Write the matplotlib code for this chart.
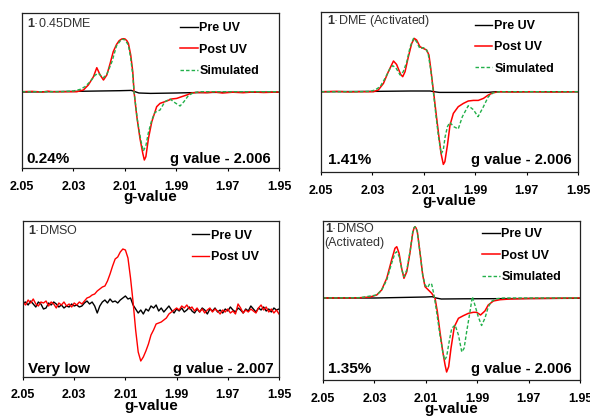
import numpy as np
import matplotlib
matplotlib.use('Agg')
import matplotlib.pyplot as plt

plt.rcParams['font.family'] = ['Liberation Sans', 'DejaVu Sans']
plt.rcParams['mathtext.fontset'] = 'custom'
plt.rcParams['mathtext.rm'] = 'Liberation Sans'
plt.rcParams['mathtext.bf'] = 'Liberation Sans:bold'

RED = '#ff0000'
GREEN = '#22b04a'

# ---- panel 1: 1·0.45DME ----
p1_pre_g = [2.050, 2.040, 2.030, 2.020, 2.012, 2.0075, 2.0060, 2.0045, 2.000, 1.995, 1.990, 1.985, 1.980, 1.970, 1.960, 1.950]
p1_pre_i = [-0.3, 0.0, 0.3, 0.7, 1.0, 1.3, 0.0, -1.3, -1.7, -1.5, -1.3, -1.0, -0.8, -0.6, -0.5, -0.4]

p1_post_g = [2.050, 2.046, 2.042, 2.040, 2.038, 2.0352, 2.0287, 2.0261, 2.0242, 2.0222, 2.0209, 2.0196,
             2.0183, 2.0170, 2.0157, 2.0145, 2.0132, 2.0122, 2.0112, 2.0105, 2.0099, 2.0092, 2.0086,
             2.0077, 2.0069, 2.0064, 2.0054, 2.0041, 2.0030, 2.0024, 2.0018, 2.0008, 1.9995, 1.9976,
             1.9963, 1.9937, 1.9918, 1.9898, 1.9879, 1.9859, 1.9840, 1.9820, 1.978, 1.975, 1.972,
             1.968, 1.964, 1.960, 1.956, 1.950]
p1_post_i = [0.0, 0.3, -0.3, 0.5, 0.0, 0.0, 0.0, 1.7, 6.7, 15.0, 24.0, 16.7,
             11.7, 16.7, 28.3, 40.0, 47.3, 51.0, 52.7, 53.0, 52.7, 51.0, 48.3,
             36.7, 20.0, 0.0, -23.3, -46.7, -61.7, -68.3, -65.0, -46.7, -30.0, -15.0,
             -11.7, -9.3, -7.3, -6.7, -5.0, -3.3, -1.3, -0.7, -1.0, -0.3, -1.3,
             -0.5, -1.0, -0.3, -0.8, -0.3]

p1_sim_g = [2.050, 2.0352, 2.0300, 2.0274, 2.0255, 2.0235, 2.0215, 2.0202, 2.0189, 2.0183, 2.0170,
            2.0150, 2.0132, 2.0112, 2.0099, 2.0086, 2.0077, 2.0069, 2.0064, 2.0051, 2.0038, 2.0028,
            2.0018, 2.0008, 1.9995, 1.9983, 1.9963, 1.9944, 1.9924, 1.9905, 1.9885, 1.9870, 1.9853,
            1.9833, 1.9807, 1.950]
p1_sim_i = [0.0, 0.0, 0.7, 2.3, 5.0, 10.0, 16.7, 18.3, 15.0, 14.0, 17.3,
            30.0, 46.0, 52.7, 51.7, 46.7, 33.3, 16.7, 0.0, -28.3, -48.3, -59.3,
            -54.0, -40.7, -28.3, -20.7, -18.3, -10.0, -7.3, -11.0, -14.3, -10.0, -4.0,
            -1.0, 0.0, 0.0]

# ---- panel 2: 1·DME (Activated) ----
p2_pre_g = [2.050, 2.030, 2.015, 2.0075, 2.006, 2.004, 1.995, 1.985, 1.982, 1.950]
p2_pre_i = [0.0, 0.3, 0.7, 0.7, 0.0, -0.7, -0.7, -0.7, 0.0, 0.0]

p2_post_g = [2.050, 2.044, 2.039, 2.0348, 2.0296, 2.0277, 2.0257, 2.0238, 2.0218, 2.0206, 2.0190,
             2.0182, 2.0173, 2.0160, 2.0147, 2.0137, 2.0128, 2.0115, 2.0102, 2.0089, 2.0080, 2.0073,
             2.0067, 2.0062, 2.0053, 2.0042, 2.0033, 2.0024, 2.0018, 2.0008, 1.9998, 1.9985, 1.9966,
             1.9946, 1.9927, 1.9907, 1.9888, 1.9868, 1.9849, 1.9830, 1.9804, 1.975, 1.968, 1.960, 1.950]
p2_post_i = [0.0, 0.3, -0.2, 0.0, 0.0, 1.7, 8.3, 20.0, 30.7, 27.3, 17.3,
             15.0, 20.0, 35.0, 48.3, 53.3, 51.7, 45.0, 43.3, 41.7, 36.7, 23.3,
             10.0, 0.0, -20.0, -43.3, -61.7, -72.7, -70.0, -53.3, -33.3, -21.7, -15.0,
             -11.7, -9.3, -8.7, -8.7, -6.7, -3.3, -1.0, 0.0, -0.3, 0.0, -0.3, 0.0]

p2_sim_g = [2.050, 2.0348, 2.0309, 2.0290, 2.0270, 2.0251, 2.0231, 2.0221, 2.0209, 2.0192, 2.0180,
            2.0166, 2.0153, 2.0140, 2.0128, 2.0115, 2.0102, 2.0092, 2.0083, 2.0072, 2.0063, 2.0053,
            2.0042, 2.0032, 2.0024, 2.0017, 2.0008, 1.9999, 1.9983, 1.9966, 1.9950, 1.9927, 1.9907,
            1.9889, 1.9870, 1.9849, 1.9830, 1.9804, 1.950]
p2_sim_i = [0.0, 0.0, 0.3, 1.7, 5.0, 13.3, 23.3, 26.0, 24.0, 16.7, 20.0,
            30.0, 45.0, 53.3, 50.0, 43.0, 44.0, 43.0, 38.0, 20.0, 0.0, -23.3,
            -46.7, -62.0, -58.0, -45.0, -35.0, -30.7, -35.0, -37.3, -25.0, -14.0, -18.0,
            -25.0, -16.0, -5.0, -1.0, 0.0, 0.0]

# ---- panel 3: 1·DMSO (noisy) ----
p3_g = [2.050, 2.049, 2.048, 2.047, 2.046, 2.045, 2.044, 2.043, 2.042, 2.041,
        2.040, 2.039, 2.038, 2.037, 2.036, 2.035, 2.034, 2.033, 2.032, 2.031,
        2.030, 2.029, 2.028, 2.027, 2.026, 2.025, 2.024, 2.023, 2.022, 2.021,
        2.020, 2.019, 2.018, 2.017, 2.016, 2.015, 2.014, 2.013, 2.012, 2.011,
        2.010, 2.009, 2.008, 2.007, 2.006, 2.005, 2.004, 2.003, 2.002, 2.001,
        2.000, 1.999, 1.998, 1.997, 1.996, 1.995, 1.994, 1.993, 1.992, 1.991,
        1.990, 1.989, 1.988, 1.987, 1.986, 1.985, 1.984, 1.983, 1.982, 1.981,
        1.980, 1.979, 1.978, 1.977, 1.976, 1.975, 1.974, 1.973, 1.972, 1.971,
        1.970, 1.969, 1.968, 1.967, 1.966, 1.965, 1.964, 1.963, 1.962, 1.961,
        1.960, 1.959, 1.958, 1.957, 1.956, 1.955, 1.954, 1.953, 1.952, 1.951,
        1.950]
p3_pre_i = [-3, -2, -5, -1, -4, -7, -2, -4, -9, -8,
            -3, -5, -2, -4, -7, -5, -8, -6, -7, -4,
            -6, -5, -7, -6, -3, -1, -4, -2, -6, -13,
            -6, -2, 0, -3, 1, -2, -1, -3, 0, 2,
            4, 1, 2, -5, -9, -13, -10, -14, -9, -11,
            -6, -8, -5, -11, -8, -12, -9, -6, -10, -13,
            -9, -11, -8, -12, -10, -7, -11, -13, -9, -12,
            -8, -10, -14, -9, -11, -8, -12, -10, -13, -9,
            -11, -7, -10, -12, -8, -10, -13, -9, -11, -6,
            -9, -12, -8, -10, -7, -11, -9, -12, -8, -10,
            -9]
p3_post_i = [-2, -5, 0, -3, 1, -4, -6, -2, -3, -1,
             -6, -2, -4, -8, -3, -5, -2, -6, -4, -7,
             -3, -5, -2, -4, -1, 2, 3, 5, 6, 9,
             11, 13, 14, 19, 26, 34, 41, 43, 48, 51,
             50, 42, 22, -2, -30, -52, -61, -57, -51, -44,
             -35, -30, -24, -23, -22, -20, -18, -14, -12, -10,
             -8, -10, -6, -8, -5, -9, -7, -11, -8, -12,
             -9, -13, -10, -8, -12, -9, -11, -14, -10, -12,
             -9, -13, -11, -14, -4, -8, -13, -10, -12, -9,
             -11, -13, -8, -5, -10, -7, -12, -9, -13, -10,
             -14]

# ---- panel 4: 1·DMSO (Activated) ----
p4_pre_g = [2.050, 2.030, 2.020, 2.010, 2.0075, 2.006, 2.004, 1.995, 1.985, 1.970, 1.950]
p4_pre_i = [0.0, 0.0, 0.5, 1.0, 1.3, 0.0, -1.0, -0.8, -0.7, -0.5, -0.3]

p4_post_g = [2.050, 2.040, 2.0356, 2.0317, 2.0291, 2.0272, 2.0252, 2.0233, 2.0220, 2.0213, 2.0204,
             2.0194, 2.0185, 2.0174, 2.0161, 2.0151, 2.0146, 2.0142, 2.0138, 2.0133, 2.0123, 2.0112,
             2.0103, 2.0090, 2.0077, 2.0064, 2.0055, 2.0045, 2.0034, 2.0025, 2.0019, 2.0011, 2.0002,
             1.9989, 1.9973, 1.9954, 1.9934, 1.9915, 1.9902, 1.9887, 1.9870, 1.9857, 1.9837, 1.9811,
             1.9772, 1.970, 1.960, 1.950]
p4_post_i = [0.0, 0.0, 0.3, 1.0, 3.0, 8.0, 19.7, 38.0, 49.7, 51.3, 44.7,
             29.7, 19.7, 26.3, 46.3, 64.7, 70.0, 71.3, 70.0, 66.3, 46.3, 23.0,
             11.3, 8.0, 4.7, -0.3, -13.7, -33.7, -53.7, -67.0, -74.0, -68.7, -50.3,
             -28.7, -20.3, -17.7, -15.3, -14.3, -14.3, -17.0, -13.0, -7.0, -3.0, -1.7,
             -1.0, -0.5, -0.3, 0.0]

p4_sim_g = [2.050, 2.0356, 2.0291, 2.0272, 2.0252, 2.0233, 2.0220, 2.0213, 2.0203, 2.0193, 2.0185,
            2.0174, 2.0161, 2.0151, 2.0146, 2.0142, 2.0138, 2.0133, 2.0123, 2.0112, 2.0103, 2.0093,
            2.0084, 2.0077, 2.0068, 2.0058, 2.0045, 2.0034, 2.0027, 2.0019, 2.0008, 1.9999, 1.9986,
            1.9973, 1.9960, 1.9951, 1.9941, 1.9928, 1.9919, 1.9909, 1.9896, 1.9883, 1.9870, 1.9857,
            1.9844, 1.9824, 1.9798, 1.950]
p4_sim_i = [0.0, 0.3, 3.0, 7.7, 18.0, 34.7, 44.7, 46.3, 41.3, 28.0, 21.3,
            28.0, 47.0, 66.0, 70.0, 71.3, 70.0, 66.3, 46.3, 23.0, 13.0, 10.3,
            14.7, 13.7, 3.0, -13.7, -37.0, -53.7, -62.0, -58.7, -42.0, -30.3, -27.0,
            -37.0, -54.0, -50.3, -33.7, -13.7, 1.3, -7.0, -18.7, -27.5, -20.3, -9.0,
            -3.3, -0.7, 0.0, 0.0]

ticks = [2.05, 2.03, 2.01, 1.99, 1.97, 1.95]

fig = plt.figure(figsize=(5.9, 4.16), dpi=100)


def make_ax(rect, ylim):
    ax = fig.add_axes(rect)
    ax.set_xlim(2.05, 1.95)
    ax.set_ylim(*ylim)
    ax.set_xticks(ticks)
    ax.set_xticklabels(['%.2f' % t for t in ticks], fontweight='bold', fontsize=9)
    ax.set_yticks([])
    ax.tick_params(axis='x', direction='out', length=2.5, width=0.8, pad=6.5)
    for s in ax.spines.values():
        s.set_linewidth(0.9)
        s.set_color('#222222')
    ax.set_xlabel('g-value', fontweight='bold', fontsize=11, labelpad=-1.5)
    return ax


def add_legend(ax, x, y):
    ax.legend(loc='upper left', bbox_to_anchor=(x, y), frameon=False,
              prop={'weight': 'bold', 'size': 9}, handlelength=1.4, handletextpad=0.15,
              labelspacing=0.75, borderpad=0, borderaxespad=0)


def notes(ax, left_txt, left_xy, right_txt, right_x):
    ax.text(left_xy[0], left_xy[1], left_txt, transform=ax.transAxes, fontsize=11,
            fontweight='bold', va='baseline', ha='left')
    ax.text(right_x, left_xy[1], right_txt, transform=ax.transAxes, fontsize=10.5,
            fontweight='bold', va='baseline', ha='right')


DASH = (0, (2.5, 1.5))

# panel 1
ax1 = make_ax([22/590, 1 - 168/416, 257/590, 155/416], (-76.3, 78.7))
ax1.plot(p1_pre_g, p1_pre_i, color='black', lw=1.0, label='Pre UV')
ax1.plot(p1_post_g, p1_post_i, color=RED, lw=1.1, label='Post UV')
ax1.plot(p1_sim_g, p1_sim_i, color=GREEN, lw=1.0, ls=DASH, label='Simulated')
add_legend(ax1, 0.615, 0.94)
ax1.text(0.02, 0.934, r'$\mathbf{1}$·0.45DME', transform=ax1.transAxes, fontsize=9,
         va='center', color='#333333')
notes(ax1, '0.24%', (0.018, 0.034), 'g value - 2.006', 0.968)

# panel 2
ax2 = make_ax([321/590, 1 - 172/416, 257/590, 160/416], (-80.3, 79.7))
ax2.plot(p2_pre_g, p2_pre_i, color='black', lw=1.0, label='Pre UV')
ax2.plot(p2_post_g, p2_post_i, color=RED, lw=1.1, label='Post UV')
ax2.plot(p2_sim_g, p2_sim_i, color=GREEN, lw=1.0, ls=DASH, label='Simulated')
add_legend(ax2, 0.599, 0.95)
ax2.text(0.022, 0.946, r'$\mathbf{1}$·DME (Activated)', transform=ax2.transAxes, fontsize=9,
         va='center', color='#333333')
notes(ax2, '1.41%', (0.027, 0.05), 'g value - 2.006', 0.975)

# panel 3
ax3 = make_ax([23/590, 1 - 377/416, 256/590, 156/416], (-77, 79))
ax3.plot(p3_g, p3_pre_i, color='black', lw=1.0, label='Pre UV')
ax3.plot(p3_g, p3_post_i, color=RED, lw=1.0, label='Post UV')
add_legend(ax3, 0.66, 0.945)
ax3.text(0.02, 0.938, r'$\mathbf{1}$·DMSO', transform=ax3.transAxes, fontsize=9,
         va='center', color='#333333')
notes(ax3, 'Very low', (0.02, 0.026), 'g value - 2.007', 0.98)

# panel 4
ax4 = make_ax([323/590, 1 - 380/416, 257/590, 159/416], (-82, 77))
ax4.plot(p4_pre_g, p4_pre_i, color='black', lw=1.0, label='Pre UV')
ax4.plot(p4_post_g, p4_post_i, color=RED, lw=1.1, label='Post UV')
ax4.plot(p4_sim_g, p4_sim_i, color=GREEN, lw=1.0, ls=DASH, label='Simulated')
add_legend(ax4, 0.619, 0.955)
ax4.text(0.006, 0.952, r'$\mathbf{1}$·DMSO', transform=ax4.transAxes, fontsize=9,
         va='center', color='#333333')
ax4.text(0.006, 0.862, '(Activated)', transform=ax4.transAxes, fontsize=9,
         va='center', color='#333333')
notes(ax4, '1.35%', (0.02, 0.044), 'g value - 2.006', 0.968)

fig.savefig('out.png', dpi=100)
